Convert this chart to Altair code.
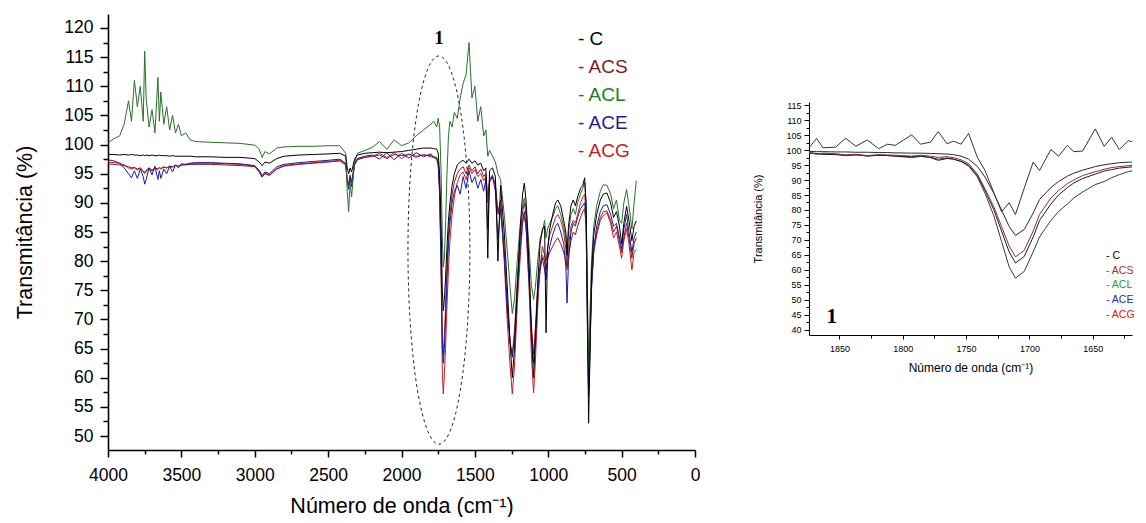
import altair as alt
import numpy as np
import pandas as pd

SERIES = ["C", "ACS", "ACL", "ACE", "ACG"]

# ---------------- main spectrum (cm-1 vs transmittance %) ----------------
WAVENUMBER = [
    4000, 3960, 3920, 3890, 3860, 3840, 3820, 3800, 3780, 3760,
    3750, 3740, 3720, 3700, 3680, 3660, 3650, 3640, 3620, 3600,
    3580, 3560, 3540, 3520, 3500, 3470, 3440, 3400, 3300, 3200,
    3100, 3000, 2970, 2950, 2930, 2900, 2850, 2800, 2700, 2600,
    2500, 2420, 2380, 2370, 2360, 2350, 2340, 2320, 2300, 2250,
    2200, 2150, 2100, 2050, 2000, 1950, 1900, 1850, 1800, 1780,
    1760, 1750, 1740, 1730, 1722, 1715, 1708, 1700, 1690, 1680,
    1670, 1655, 1640, 1620, 1600, 1580, 1560, 1540, 1520, 1500,
    1480, 1460, 1440, 1425, 1412, 1400, 1380, 1360, 1343, 1325,
    1300, 1280, 1260, 1245, 1230, 1210, 1190, 1175, 1163, 1150,
    1130, 1115, 1100, 1088, 1070, 1055, 1040, 1025, 1015, 1005,
    990, 970, 950, 935, 915, 895, 880, 872, 862, 845,
    830, 815, 800, 780, 765, 752, 742, 733, 725, 717,
    705, 690, 670, 645, 625, 600, 575, 555, 535, 515,
    500, 485, 466, 450, 430, 415, 400,
]

T_C = [
    98.3, 98.3, 98.2, 98.3, 98.2, 98.3, 98.2, 98.2, 98.1, 98.2,
    98.1, 98.2, 98.1, 98.2, 98.1, 98.1, 98.2, 98.1, 98.1, 98.1,
    98.0, 98.1, 98.0, 98.0, 98.0, 98.0, 98.0, 97.9, 97.9, 97.8,
    97.8, 97.6, 97.0, 96.4, 97.0, 96.8, 97.6, 98.0, 98.2, 98.3,
    98.4, 98.5, 98.0, 96.0, 95.0, 96.0, 95.3, 97.5, 98.2, 98.5,
    98.6, 98.7, 98.6, 98.7, 98.8, 99.0, 99.2, 99.4, 99.4, 99.3,
    99.2, 98.5, 95.0, 86.0, 75.0, 71.5, 73.5, 77.0, 82.5, 87.0,
    90.0, 93.0, 95.0, 96.5, 97.0, 97.3, 96.8, 97.5, 96.8, 97.2,
    96.5, 96.8, 95.5, 96.0, 80.5, 95.5, 96.0, 94.5, 80.0, 93.0,
    85.0, 76.0, 66.0, 60.0, 65.0, 76.0, 86.0, 91.5, 93.4, 90.0,
    79.0, 68.0, 60.0, 66.0, 77.0, 83.0, 85.5, 86.0, 67.7, 82.0,
    85.5, 88.0, 90.0, 90.5, 89.5, 87.0, 85.0, 81.0, 86.0, 89.5,
    90.5, 89.5, 91.0, 92.5, 93.0, 94.3, 90.0, 72.0, 52.2, 62.0,
    78.0, 84.5, 88.0, 90.5, 91.5, 91.7, 90.0, 87.5, 88.5, 86.0,
    83.0, 86.5, 89.4, 87.0, 83.5, 86.0, 86.9,
]

T_ACS = [
    96.7, 96.6, 96.5, 96.4, 96.2, 96.0, 96.1, 95.8, 96.0, 95.5,
    95.2, 95.6, 96.0, 95.6, 96.0, 95.8, 96.1, 95.9, 96.2, 96.0,
    96.3, 96.2, 96.4, 96.3, 96.5, 96.5, 96.6, 96.6, 96.6, 96.5,
    96.4, 96.2, 95.3, 94.4, 95.0, 94.7, 95.8, 96.3, 96.6, 96.8,
    97.0, 97.2, 96.5, 94.0, 93.0, 94.5, 93.5, 96.5, 97.5, 97.8,
    98.0, 98.2, 97.6, 98.3, 98.1, 98.3, 98.0, 98.2, 98.1, 97.9,
    97.8, 96.8, 92.5, 80.5, 67.0, 64.0, 67.0, 72.0, 79.0, 84.5,
    88.0, 91.5, 93.5, 95.0, 95.8, 96.2, 95.0, 96.5, 95.5, 96.2,
    95.0, 95.8, 94.5, 95.0, 91.0, 94.0, 94.5, 93.0, 88.0, 90.5,
    82.0, 73.0, 66.0, 64.0, 68.0, 77.0, 84.5, 88.5, 90.0, 87.5,
    78.0, 69.0, 64.0, 68.5, 76.5, 79.5, 81.0, 80.0, 78.5, 80.5,
    81.5, 82.5, 83.5, 84.0, 83.0, 81.5, 80.0, 79.0, 81.0, 83.5,
    85.0, 84.5, 86.0, 87.5, 88.5, 89.0, 86.0, 70.0, 58.0, 65.0,
    76.0, 82.0, 85.0, 87.5, 88.5, 88.6, 87.0, 85.0, 86.0, 83.5,
    81.5, 84.0, 86.5, 84.0, 80.5, 83.0, 84.0,
]

T_ACL = [
    100.3, 101.0, 101.5, 103.5, 107.5, 104.0, 111.0, 106.5, 110.0, 104.0,
    116.0, 108.0, 103.0, 106.0, 102.0, 111.5, 104.0, 109.0, 103.5, 106.5,
    102.5, 105.0, 102.0, 103.5, 101.5, 102.0, 100.8, 100.5, 100.4, 100.3,
    100.2, 99.9, 99.2, 97.8, 98.8, 98.4, 99.4, 99.6, 99.7, 99.7,
    99.8, 99.8, 98.5, 92.0, 88.5, 93.5, 91.0, 97.0, 98.5, 99.0,
    99.5, 100.5, 99.2, 100.8, 99.8, 100.3, 101.5, 102.5, 103.5, 104.0,
    103.0, 104.5, 103.0, 95.0, 84.0, 79.0, 80.5, 86.0, 95.0, 101.5,
    104.0, 103.0, 105.5, 104.5, 108.0, 110.5, 112.0, 117.5, 108.0, 110.0,
    104.0, 106.5, 101.5, 102.5, 98.0, 99.0, 98.0, 97.0, 95.0, 94.0,
    88.0, 82.0, 75.5, 71.0, 73.5, 80.5, 86.5, 89.5, 90.8, 89.0,
    82.0, 76.0, 73.4, 75.5, 80.5, 84.0, 85.0, 87.0, 84.0, 85.5,
    86.5, 87.5, 89.0, 89.5, 88.0, 86.0, 84.0, 80.5, 85.0, 88.0,
    89.0, 88.0, 90.0, 91.5, 92.5, 93.5, 89.5, 75.0, 62.0, 70.0,
    80.0, 86.0, 89.5, 92.0, 93.1, 93.0, 91.5, 89.0, 90.5, 87.0,
    86.5, 90.0, 92.3, 89.5, 85.5, 90.0, 93.8,
]

T_ACE = [
    97.4, 97.2, 96.8, 96.0, 95.0, 94.3, 95.5, 94.2, 95.8, 94.5,
    93.2, 94.0, 96.0, 94.8, 96.3, 94.0, 95.5, 94.2, 95.8, 95.0,
    96.3, 95.3, 96.5, 96.0, 96.7, 96.6, 96.8, 96.9, 96.9, 96.8,
    96.7, 96.4, 95.6, 94.7, 95.3, 95.0, 96.2, 96.6, 96.9, 97.1,
    97.3, 97.5, 96.8, 93.5, 92.3, 94.5, 92.8, 96.8, 97.6, 98.0,
    98.2, 97.5, 98.6, 97.4, 98.5, 97.7, 98.6, 97.9, 98.4, 97.8,
    97.6, 96.6, 92.0, 79.5, 65.5, 62.5, 65.0, 70.0, 77.0, 83.0,
    86.5, 90.0, 92.0, 93.0, 91.5, 94.5, 92.5, 95.5, 93.5, 94.5,
    92.5, 94.0, 92.0, 94.0, 85.5, 93.5, 94.5, 92.0, 83.7, 89.0,
    81.0, 72.0, 66.0, 63.5, 67.0, 75.0, 82.5, 87.0, 88.5, 86.0,
    76.0, 68.0, 62.5, 66.5, 75.0, 78.5, 80.5, 78.5, 76.8, 80.0,
    82.5, 84.5, 86.0, 86.5, 85.0, 83.0, 79.0, 72.8, 80.0, 85.0,
    86.5, 86.0, 87.5, 89.0, 89.5, 90.0, 87.0, 68.0, 57.0, 63.0,
    75.0, 82.0, 86.0, 88.5, 89.5, 89.7, 88.0, 86.0, 86.5, 84.0,
    82.0, 85.5, 88.0, 85.0, 81.5, 84.0, 85.0,
]

T_ACG = [
    97.0, 96.9, 96.8, 96.5, 96.0, 95.8, 96.0, 95.6, 96.0, 95.3,
    95.0, 95.4, 95.8, 95.5, 95.9, 95.7, 96.0, 95.8, 96.1, 96.0,
    96.2, 96.1, 96.4, 96.3, 96.5, 96.6, 96.7, 96.8, 96.8, 96.7,
    96.6, 96.3, 95.4, 94.5, 95.1, 94.8, 95.9, 96.4, 96.7, 96.9,
    97.1, 97.3, 96.6, 94.0, 93.3, 94.8, 93.5, 96.6, 97.4, 97.8,
    98.0, 98.5, 97.8, 98.6, 97.6, 98.4, 97.8, 98.3, 97.9, 97.8,
    97.5, 96.5, 91.5, 77.5, 61.0, 57.2, 60.5, 65.0, 72.5, 78.5,
    83.5, 88.0, 91.0, 93.5, 94.8, 95.3, 94.0, 96.0, 95.0, 95.7,
    94.5, 95.0, 93.8, 94.5, 90.0, 94.0, 94.8, 93.0, 88.5, 90.0,
    80.0, 70.0, 62.0, 57.2, 62.0, 73.0, 81.0, 86.5, 87.8, 85.0,
    75.0, 64.0, 57.4, 62.5, 73.0, 79.0, 82.5, 81.0, 80.0, 82.0,
    84.5, 86.0, 87.5, 88.0, 87.0, 85.0, 82.0, 78.5, 82.5, 86.0,
    87.0, 86.5, 88.0, 90.0, 91.0, 91.5, 88.0, 70.0, 60.0, 66.0,
    76.0, 81.5, 84.5, 87.0, 87.8, 88.3, 86.5, 84.0, 85.0, 82.5,
    80.5, 83.5, 85.5, 83.0, 78.5, 81.5, 82.0,
]

# ---------------- inset: region "1" ----------------
INSET_WAVENUMBER = [
    1874, 1868, 1863, 1853, 1845, 1837, 1828, 1819, 1812, 1806,
    1793, 1786, 1778, 1772, 1765, 1760, 1754, 1748, 1741, 1735,
    1728, 1722, 1716, 1711, 1704, 1697, 1692, 1683, 1677, 1670,
    1665, 1658, 1648, 1641, 1635, 1629, 1622, 1619,
]
INSET_ACL = [
    100.8, 103.9, 100.8, 101.0, 104.0, 101.3, 103.4, 100.5, 102.0, 101.6,
    105.1, 102.0, 102.7, 106.2, 102.1, 103.0, 102.0, 105.6, 97.5, 93.2,
    85.7, 79.4, 82.4, 78.5, 87.4, 96.0, 93.2, 100.2, 98.0, 101.6,
    99.5, 99.7, 107.1, 101.3, 104.3, 100.2, 103.2, 102.8,
]
INSET_C = [
    99.6, 99.5, 99.5, 99.4, 99.4, 99.3, 99.3, 99.2, 99.2, 99.1,
    99.0, 99.0, 98.9, 98.8, 98.7, 98.5, 98.0, 97.0, 94.5, 91.0,
    85.5, 80.0, 74.5, 71.5, 73.5, 79.0, 83.5, 87.5, 89.5, 91.3,
    92.3, 93.3, 94.5, 95.1, 95.5, 95.8, 96.0, 96.0,
]
INSET_ACS = [
    99.3, 98.6, 99.0, 98.8, 98.4, 98.6, 98.2, 98.5, 98.4, 98.3,
    98.0, 98.3, 98.0, 97.6, 97.8, 97.5, 96.8, 95.5, 92.0, 87.0,
    81.0, 74.5, 68.0, 64.3, 66.5, 73.0, 78.5, 84.0, 86.5, 88.8,
    90.0, 91.5, 92.8, 93.6, 94.2, 94.5, 94.8, 94.9,
]
INSET_ACE = [
    99.0, 98.8, 98.6, 98.5, 98.3, 98.5, 98.0, 98.3, 98.2, 98.0,
    97.8, 98.1, 97.5, 96.6, 97.2, 97.0, 96.3, 95.0, 91.5, 86.5,
    80.0, 73.0, 66.0, 62.3, 64.5, 71.0, 76.5, 82.0, 85.0, 87.5,
    89.0, 90.5, 92.0, 93.0, 93.5, 94.0, 94.3, 94.4,
]
INSET_ACG = [
    99.2, 98.9, 98.8, 98.6, 98.2, 98.4, 98.1, 98.3, 98.2, 98.0,
    97.5, 97.9, 97.6, 97.0, 97.4, 97.0, 96.2, 94.7, 91.0, 85.5,
    78.0, 69.5, 61.0, 57.2, 59.5, 66.0, 71.0, 76.5, 79.5, 82.0,
    84.0, 86.0, 88.5, 89.5, 90.8, 91.8, 92.8, 93.1,
]

MAIN_SERIES = {"C": T_C, "ACS": T_ACS, "ACL": T_ACL, "ACE": T_ACE, "ACG": T_ACG}
INSET_SERIES = {"C": INSET_C, "ACS": INSET_ACS, "ACL": INSET_ACL, "ACE": INSET_ACE, "ACG": INSET_ACG}

# ---------------- styles ----------------
LINE_COLORS = {"C": "#000000", "ACS": "#8b1a1a", "ACL": "#2a702a", "ACE": "#1a1aa5", "ACG": "#c41e24"}
LEGEND_COLORS = {"C": "#000000", "ACS": "#7b1c1c", "ACL": "#1e7b1e", "ACE": "#1c1c8f", "ACG": "#bf1e24"}
INSET_LINE_COLORS = {"C": "#2a2a2a", "ACS": "#8b3030", "ACL": "#333333", "ACE": "#1e1e1e", "ACG": "#3a3a3a"}
INSET_LEGEND_COLORS = {"C": "#000000", "ACS": "#b02a2a", "ACL": "#2a9a2a", "ACE": "#2a2ab8", "ACG": "#cc2222"}
DRAW_ORDER = ["ACG", "ACS", "ACE", "ACL", "C"]

FONT = "Liberation Sans"
SERIF = "Liberation Serif"

# ---------------- main chart ----------------
MAIN_W, MAIN_H = 587, 436
x_main_scale = alt.Scale(domain=[0, 4000], reverse=True, nice=False, zero=False)
y_main_scale = alt.Scale(domain=[47.6, 122.4], nice=False, zero=False)

x_main_axis = alt.Axis(
    title="Número de onda (cm⁻¹)", values=list(range(0, 4001, 250)), format="d",
    labelExpr="datum.value % 500 === 0 ? datum.label : ''",
    tickSize={"condition": {"test": "datum.value % 500 === 0", "value": 7}, "value": 4},
    labelFont=FONT, labelFontSize=17.5, titleFont=FONT, titleFontSize=21.5,
    titleFontWeight="normal", labelPadding=9, titlePadding=12,
    domainColor="black", domainWidth=1.6, tickColor="black", tickWidth=1.5,
    labelColor="black", titleColor="black", grid=False, labelOverlap=False, labelFlush=False,
)
y_main_axis = alt.Axis(
    title="Transmitância (%)", values=[50 + 2.5 * i for i in range(29)], format="d",
    labelExpr="datum.value % 5 === 0 ? datum.label : ''",
    tickSize={"condition": {"test": "datum.value % 5 === 0", "value": 8}, "value": 5},
    labelFont=FONT, labelFontSize=17.5, titleFont=FONT, titleFontSize=21.5,
    titleFontWeight="normal", labelPadding=7, titlePadding=27,
    domainColor="black", domainWidth=1.6, tickColor="black", tickWidth=1.5,
    labelColor="black", titleColor="black", grid=False, labelOverlap=False, labelFlush=False,
)


def xm():
    return alt.X("wn:Q", scale=x_main_scale, axis=x_main_axis)


def ym():
    return alt.Y("value:Q", scale=y_main_scale, axis=y_main_axis)


main_layers = []
for s in DRAW_ORDER:
    df = pd.DataFrame({"wn": WAVENUMBER, "value": MAIN_SERIES[s]})
    main_layers.append(
        alt.Chart(df).mark_line(strokeWidth=1, color=LINE_COLORS[s]).encode(x=xm(), y=ym())
    )

# dashed ellipse marking region 1
ELLIPSE_CENTER = (1745, 81.9)
ELLIPSE_RADII = (211, 33.3)
theta = np.linspace(0, 2 * np.pi, 121)
ell = pd.DataFrame({
    "wn": ELLIPSE_CENTER[0] + ELLIPSE_RADII[0] * np.cos(theta),
    "value": ELLIPSE_CENTER[1] + ELLIPSE_RADII[1] * np.sin(theta),
    "k": np.arange(len(theta)),
})
main_layers.append(
    alt.Chart(ell).mark_line(strokeWidth=1, color="#222222", strokeDash=[3, 3]).encode(
        x=xm(), y=ym(), order="k:Q")
)
main_layers.append(
    alt.Chart(pd.DataFrame({"wn": [1745], "value": [118.3], "t": ["1"]})).mark_text(
        font=SERIF, fontWeight="bold", fontSize=19, baseline="middle", align="center", color="black"
    ).encode(x=xm(), y=ym(), text="t:N")
)

LEGEND_X, LEGEND_TOP, LEGEND_STEP = 470, 25, 28
for i, s in enumerate(SERIES):
    main_layers.append(
        alt.Chart(pd.DataFrame({"t": ["- " + s]})).mark_text(
            font=FONT, fontSize=19, align="left", baseline="middle", color=LEGEND_COLORS[s]
        ).encode(x=alt.value(LEGEND_X), y=alt.value(LEGEND_TOP + i * LEGEND_STEP), text="t:N")
    )

main = alt.layer(*main_layers).properties(width=MAIN_W, height=MAIN_H)

# ---------------- inset chart ----------------
IN_W, IN_H = 323, 233
x_in_scale = alt.Scale(domain=[1619, 1874], reverse=True, nice=False, zero=False)
y_in_scale = alt.Scale(domain=[38.2, 116.1], nice=False, zero=False)
x_in_axis = alt.Axis(
    title="Número de onda (cm⁻¹)", values=list(range(1625, 1851, 25)), format="d",
    labelExpr="datum.value % 50 === 0 ? datum.label : ''",
    tickSize={"condition": {"test": "datum.value % 50 === 0", "value": 4}, "value": 3},
    labelFont=FONT, labelFontSize=9, titleFont=FONT, titleFontSize=12,
    titleFontWeight="normal", labelPadding=5, titlePadding=9,
    domainColor="black", domainWidth=1, tickColor="black", tickWidth=1,
    labelColor="black", titleColor="black", grid=False, labelOverlap=False, labelFlush=False,
)
y_in_axis = alt.Axis(
    title="Transmitância (%)", values=[40 + 2.5 * i for i in range(31)], format="d",
    labelExpr="datum.value % 5 === 0 ? datum.label : ''",
    tickSize={"condition": {"test": "datum.value % 5 === 0", "value": 5}, "value": 3},
    labelFont=FONT, labelFontSize=9, titleFont=FONT, titleFontSize=11,
    titleFontWeight="normal", labelPadding=3, titlePadding=22,
    domainColor="black", domainWidth=1, tickColor="black", tickWidth=1,
    labelColor="black", titleColor="black", grid=False, labelOverlap=False, labelFlush=False,
)


def xi():
    return alt.X("wn:Q", scale=x_in_scale, axis=x_in_axis)


def yi():
    return alt.Y("value:Q", scale=y_in_scale, axis=y_in_axis)


inset_layers = []
for s in ["ACG", "ACE", "ACS", "C", "ACL"]:
    df = pd.DataFrame({"wn": INSET_WAVENUMBER, "value": INSET_SERIES[s]})
    inset_layers.append(
        alt.Chart(df).mark_line(strokeWidth=1, color=INSET_LINE_COLORS[s]).encode(x=xi(), y=yi())
    )
inset_layers.append(
    alt.Chart(pd.DataFrame({"wn": [1856], "value": [44.2], "t": ["1"]})).mark_text(
        font=SERIF, fontWeight="bold", fontSize=21, baseline="middle", align="center", color="black"
    ).encode(x=xi(), y=yi(), text="t:N")
)
IN_LEGEND_X, IN_LEGEND_TOP, IN_LEGEND_STEP = 297, 154, 14.7
for i, s in enumerate(SERIES):
    inset_layers.append(
        alt.Chart(pd.DataFrame({"t": ["- " + s]})).mark_text(
            font=FONT, fontSize=10.5, align="left", baseline="middle", color=INSET_LEGEND_COLORS[s]
        ).encode(x=alt.value(IN_LEGEND_X), y=alt.value(IN_LEGEND_TOP + i * IN_LEGEND_STEP), text="t:N")
    )

inset = alt.layer(*inset_layers).properties(width=IN_W, height=IN_H)

# invisible spacer that pushes the inset down
spacer = alt.Chart(pd.DataFrame({"a": [0]})).mark_point(opacity=0).encode(
    x=alt.value(0), y=alt.value(0)
).properties(width=IN_W, height=87)

right_col = alt.vconcat(spacer, inset, spacing=0)

chart = alt.hconcat(main, right_col, spacing=52).properties(
    padding={"left": 6, "top": 3, "right": 0, "bottom": 0}
).configure_view(stroke=None)

chart.save("out.html", embed_options={"renderer": "svg", "actions": False})
